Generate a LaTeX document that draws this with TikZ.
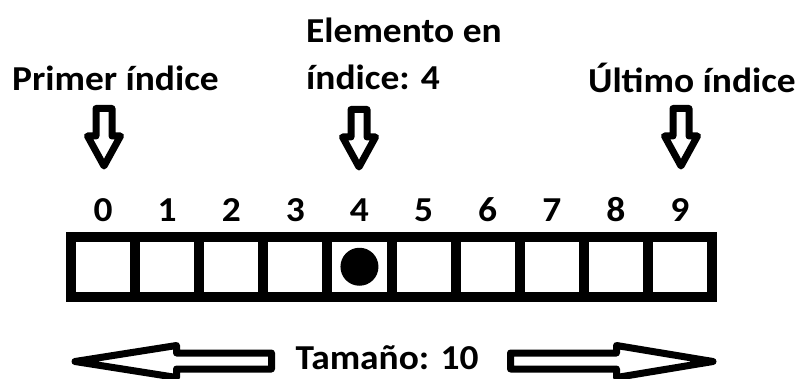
\documentclass[tikz,border=0pt]{standalone}
\usepackage{fontspec}
\setmainfont{Carlito}
\newcommand\wtxt[1]{\scalebox{1.07}[1]{#1}}
\begin{document}
\begin{tikzpicture}[x=1pt,y=-1pt,
  lbl/.style={font=\bfseries\fontsize{35}{40}\selectfont, anchor=base, inner sep=0pt},
  cell/.style={draw=black, line width=10pt, minimum width=64.1pt, minimum height=60.5pt, inner sep=0pt},
  hollow/.style={draw=black, fill=white, line width=7pt, line join=round},
  dot/.style={circle, fill=black, minimum size=38pt, inner sep=0pt},
  pics/downarrow/.style={code={
    \draw[hollow] (-8,3.5) -- (-8,31) -- (-16.5,31) -- (0,61) -- (16.5,31) -- (8,31) -- (8,3.5) -- cycle;
  }}]
\useasboundingbox[fill=white] (0,0) rectangle (802,379);
% cells
\foreach \i in {0,...,9}{
  \node[cell] (c\i) at ({71+32.05+64.1*\i},266.75) {};
  \node[lbl] (n\i) at ({71+32.05+64.1*\i},222) {\wtxt{\i}};
}
\node[dot] (d) at (c4.center) {};
% top labels
\node[lbl, anchor=base west] (first) at (12,91) {\wtxt{Primer índice}};
\node[lbl, anchor=base west] (elem1) at (306,43) {\wtxt{Elemento en}};
\node[lbl, anchor=base west] (elem2) at (306,90) {\wtxt{índice: 4}};
\node[lbl, anchor=base east] (last) at (796,93) {\wtxt{Último índice}};
% down arrows
\pic at (104,105) {downarrow};
\pic at (359,106) {downarrow};
\pic at (681,105) {downarrow};
% size
\node[lbl] (size) at (387,369) {\wtxt{Tamaño: 10}};
\draw[hollow] (271.5,353) -- (176.5,353) -- (176.5,345.5) -- (75,361.5) -- (176.5,377.5) -- (176.5,369) -- (271.5,369) -- cycle;
\draw[hollow] (510.5,353) -- (616.5,353) -- (616.5,345.5) -- (713,361.5) -- (616.5,377.5) -- (616.5,369) -- (510.5,369) -- cycle;
\end{tikzpicture}
\end{document}
